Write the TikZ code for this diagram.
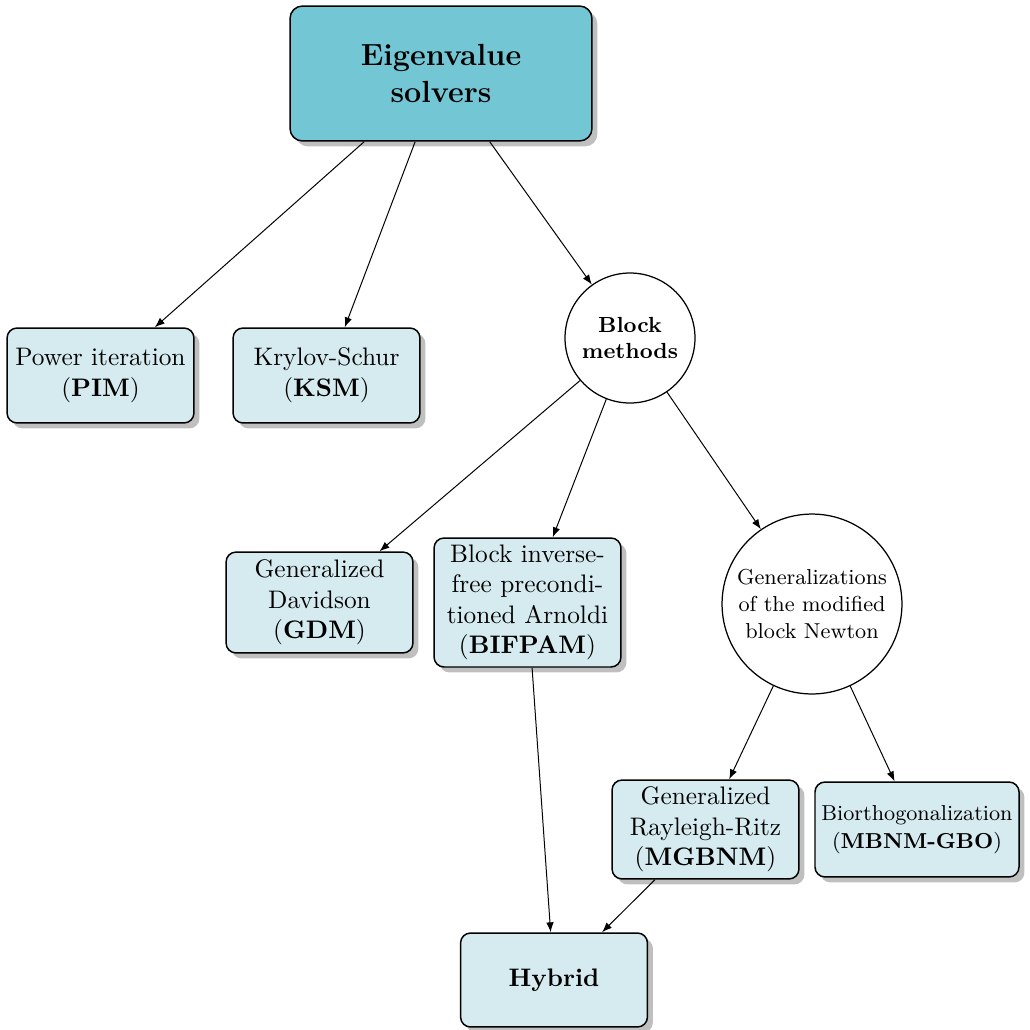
\documentclass[tikz,border=0pt]{standalone}
\usetikzlibrary{shadows,arrows.meta}
\definecolor{topfill}{RGB}{115,198,212}
\definecolor{boxfill}{RGB}{214,235,240}
\begin{document}
\begin{tikzpicture}[x=0.4024pt,y=-0.4024pt,
  box/.style={draw, line width=0.6pt, rounded corners=4pt, fill=boxfill, align=center,
    minimum width=75.2pt, minimum height=38.2pt, inner sep=2pt,
    font=\fontsize{10.2pt}{12.3pt}\selectfont,
    drop shadow={shadow xshift=2.2pt,shadow yshift=-2.2pt}},
  topbox/.style={box, fill=topfill, rounded corners=5pt, minimum width=121.5pt, minimum height=54.3pt,
    font=\fontsize{12.3pt}{14.6pt}\selectfont\bfseries},
  circ/.style={draw, circle, fill=white, line width=0.5pt, align=center, inner sep=0pt},
  conn/.style={-{Latex[length=4pt,width=3pt]}, line width=0.4pt}]
\useasboundingbox (0,0) rectangle (1029,1030);
\node[topbox] (top) at (441,73.5) {Eigenvalue\\solvers};
\node[box] (pim) at (100.5,375.5) {Power iteration\\(\textbf{PIM})};
\node[box] (ksm) at (326.5,375.5) {Krylov-Schur\\(\textbf{KSM})};
\node[circ, minimum size=52.3pt, font=\fontsize{8.8pt}{10.6pt}\selectfont\bfseries] (blk) at (630,338) {Block\\methods};
\node[box, minimum height=40.6pt] (gdm) at (319.5,602.5) {Generalized\\Davidson\\(\textbf{GDM})};
\node[box, minimum height=51.9pt] (bif) at (527.5,602.5) {Block inverse-\\free precondi-\\tioned Arnoldi\\(\textbf{BIFPAM})};
\node[circ, minimum size=72.4pt, font=\fontsize{8.7pt}{10.9pt}\selectfont] (gen) at (812,604) {Generalizations\\of the modified\\block Newton};
\node[box, minimum height=39.8pt] (mgb) at (705.5,829.5) {Generalized\\Rayleigh-Ritz\\(\textbf{MGBNM})};
\node[box, minimum width=82.1pt, font=\fontsize{8.7pt}{11.5pt}\selectfont] (gbo) at (917,829.5) {Biorthogonalization\\(\textbf{MBNM-GBO})};
\node[box, minimum height=37.8pt, font=\fontsize{10.2pt}{12.3pt}\selectfont\bfseries] (hyb) at (554,980) {Hybrid};
\draw[conn] (top) -- (pim);
\draw[conn] (top) -- (ksm);
\draw[conn] (top) -- (blk);
\draw[conn] (blk) -- (gdm);
\draw[conn] (blk) -- (bif);
\draw[conn] (blk) -- (gen);
\draw[conn] (gen) -- (mgb);
\draw[conn] (gen) -- (gbo);
\draw[conn] (bif) -- (hyb);
\draw[conn] (mgb) -- (hyb);
\end{tikzpicture}
\end{document}
